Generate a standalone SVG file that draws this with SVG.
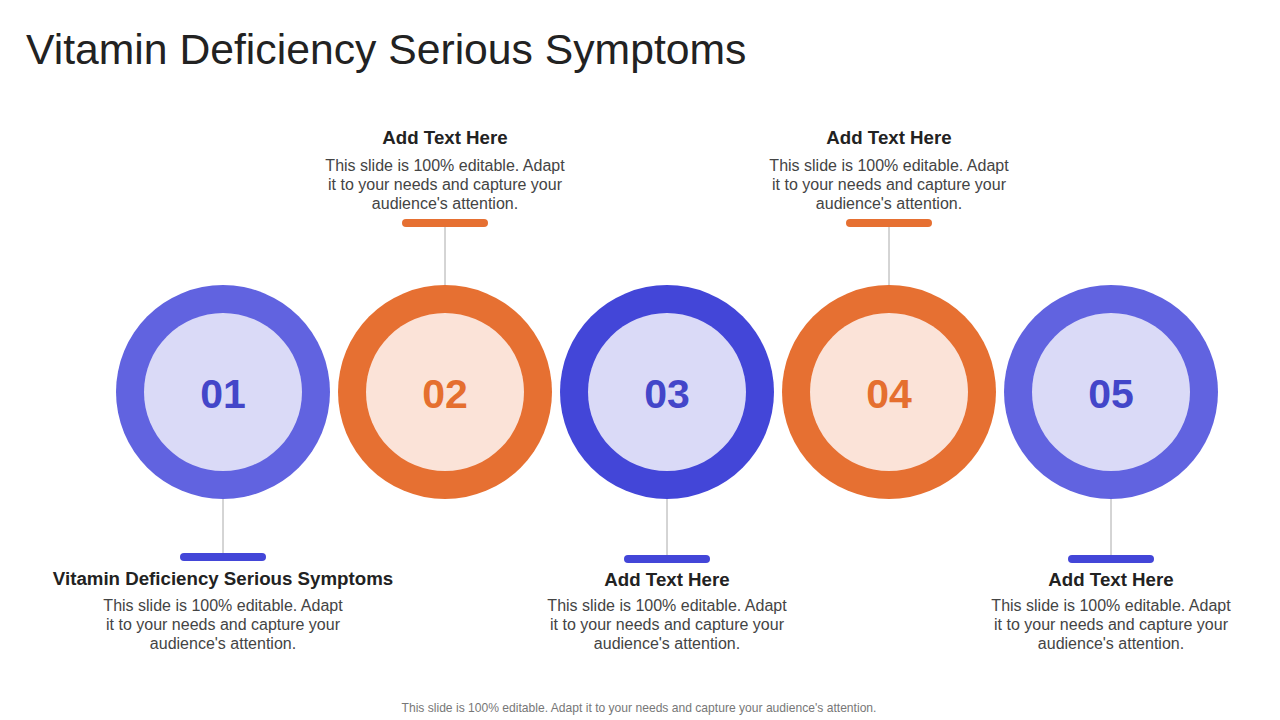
<svg xmlns="http://www.w3.org/2000/svg" width="1280" height="720" viewBox="0 0 1280 720">
<style>
.title{font-family:"Liberation Sans",Arial,sans-serif;font-size:42.7px;fill:#222;}
.head{font-family:"Liberation Sans",Arial,sans-serif;font-size:18.7px;font-weight:bold;fill:#222;text-anchor:middle;}
.body{font-family:"Liberation Sans",Arial,sans-serif;font-size:16px;fill:#444;text-anchor:middle;}
.num{font-family:"Liberation Sans",Arial,sans-serif;font-size:41px;font-weight:bold;text-anchor:middle;}
.foot{font-family:"Liberation Sans",Arial,sans-serif;font-size:12.1px;fill:#777;text-anchor:middle;}
.conn{stroke:#aaaaaa;stroke-width:1;}
</style>
<rect width="1280" height="720" fill="#ffffff"/>
<text class="title" x="26" y="64">Vitamin Deficiency Serious Symptoms</text>
<g id="connectors">
<line class="conn" x1="223" y1="497" x2="223" y2="555"/>
<line class="conn" x1="445" y1="226" x2="445" y2="286"/>
<line class="conn" x1="667" y1="497" x2="667" y2="555"/>
<line class="conn" x1="889" y1="226" x2="889" y2="286"/>
<line class="conn" x1="1111" y1="497" x2="1111" y2="555"/>
</g>
<g id="node1">
<circle cx="223" cy="392" r="107" fill="#6163E0"/>
<circle cx="223" cy="392" r="79" fill="#DADAF7"/>
<text class="num" x="223" y="408" fill="#4346C9">01</text>
<rect x="180" y="553" width="86" height="8" rx="4" fill="#4346D8"/>
<text class="head" x="223" y="585">Vitamin Deficiency Serious Symptoms</text>
<text class="body" x="223" y="611">This slide is 100% editable. Adapt</text>
<text class="body" x="223" y="630">it to your  needs and capture your</text>
<text class="body" x="223" y="649">audience's attention.</text>
</g>
<g id="node2">
<circle cx="445" cy="392" r="107" fill="#E67032"/>
<circle cx="445" cy="392" r="79" fill="#FBE3D8"/>
<text class="num" x="445" y="408" fill="#E56F2F">02</text>
<rect x="402" y="219" width="86" height="8" rx="4" fill="#E67032"/>
<text class="head" x="445" y="144">Add Text Here</text>
<text class="body" x="445" y="171">This slide is 100% editable. Adapt</text>
<text class="body" x="445" y="190">it to your  needs and capture your</text>
<text class="body" x="445" y="209">audience's attention.</text>
</g>
<g id="node3">
<circle cx="667" cy="392" r="107" fill="#4346D8"/>
<circle cx="667" cy="392" r="79" fill="#DADAF7"/>
<text class="num" x="667" y="408" fill="#4346C9">03</text>
<rect x="624" y="555" width="86" height="8" rx="4" fill="#4346D8"/>
<text class="head" x="667" y="586">Add Text Here</text>
<text class="body" x="667" y="611">This slide is 100% editable. Adapt</text>
<text class="body" x="667" y="630">it to your  needs and capture your</text>
<text class="body" x="667" y="649">audience's attention.</text>
</g>
<g id="node4">
<circle cx="889" cy="392" r="107" fill="#E67032"/>
<circle cx="889" cy="392" r="79" fill="#FBE3D8"/>
<text class="num" x="889" y="408" fill="#E56F2F">04</text>
<rect x="846" y="219" width="86" height="8" rx="4" fill="#E67032"/>
<text class="head" x="889" y="144">Add Text Here</text>
<text class="body" x="889" y="171">This slide is 100% editable. Adapt</text>
<text class="body" x="889" y="190">it to your  needs and capture your</text>
<text class="body" x="889" y="209">audience's attention.</text>
</g>
<g id="node5">
<circle cx="1111" cy="392" r="107" fill="#6163E0"/>
<circle cx="1111" cy="392" r="79" fill="#DADAF7"/>
<text class="num" x="1111" y="408" fill="#4346C9">05</text>
<rect x="1068" y="555" width="86" height="8" rx="4" fill="#4346D8"/>
<text class="head" x="1111" y="586">Add Text Here</text>
<text class="body" x="1111" y="611">This slide is 100% editable. Adapt</text>
<text class="body" x="1111" y="630">it to your  needs and capture your</text>
<text class="body" x="1111" y="649">audience's attention.</text>
</g>
<text class="foot" x="639" y="712">This slide is 100% editable. Adapt it to your needs and capture your audience's attention.</text>
</svg>
